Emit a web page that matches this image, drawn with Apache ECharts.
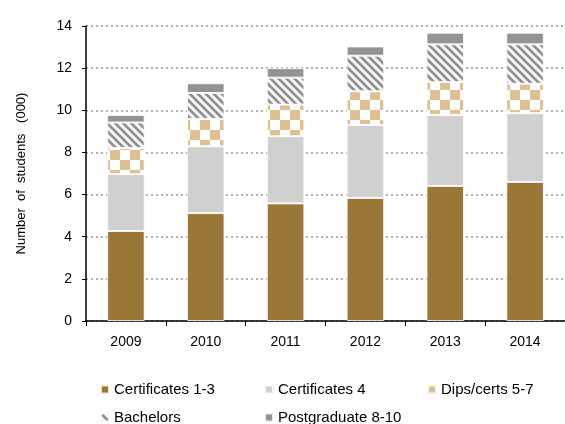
<!DOCTYPE html>
<html>
<head>
<meta charset="utf-8">
<script src="https://cdn.jsdelivr.net/npm/echarts@6/dist/echarts.min.js"></script>
<style>
html, body { margin: 0; padding: 0; background: #fff; }
#student-chart { width: 565px; height: 424px; }
</style>
</head>
<body>
<div id="student-chart"></div>
<script>
// 数据
var years = ['2009', '2010', '2011', '2012', '2013', '2014'];
var certs13 = [4.27, 5.12, 5.58, 5.84, 6.41, 6.60];
var certs4 = [2.70, 3.17, 3.19, 3.46, 3.37, 3.26];
var dips57 = [1.24, 1.30, 1.50, 1.60, 1.56, 1.40];
var bachelors = [1.21, 1.23, 1.28, 1.69, 1.79, 1.87];
var postgrad = [0.36, 0.46, 0.45, 0.44, 0.55, 0.55];
var yTicks = [0, 2, 4, 6, 8, 10, 12, 14];

var myChart = echarts.init(document.getElementById('student-chart'));

/**
 * [棋盘格图案]
 */
function checkerPattern() {
    let c = document.createElement('canvas');
    c.width = 20;
    c.height = 20;
    let ctx = c.getContext('2d');
    ctx.fillStyle = '#ffffff';
    ctx.fillRect(0, 0, 20, 20);
    ctx.fillStyle = '#dec192';
    ctx.fillRect(0, 0, 10, 10);
    ctx.fillRect(10, 10, 10, 10);
    return c;
}

/**
 * [斜线图案]
 */
function stripePattern() {
    let c = document.createElement('canvas');
    c.width = 8;
    c.height = 8;
    let ctx = c.getContext('2d');
    ctx.fillStyle = '#f4f4f4';
    ctx.fillRect(0, 0, 8, 8);
    ctx.strokeStyle = '#8c8c8c';
    ctx.lineWidth = 2.6;
    for (let k = -8; k <= 8; k += 8) {
        ctx.beginPath();
        ctx.moveTo(k - 2, -2);
        ctx.lineTo(k + 10, 10);
        ctx.stroke();
    }
    return c;
}

function barSeries(name, data, color) {
    return {
        name: name,
        type: 'bar',
        stack: 'total',
        barWidth: '47%',
        data: data,
        itemStyle: { color: color, borderColor: 'rgba(255,255,255,0.8)', borderWidth: 1 }
    };
}

var legendText = { fontFamily: 'Liberation Sans, Arial', fontSize: 15, color: '#000' };

/**
 * [单个图例]
 */
function legendItem(name, left, top) {
    return {
        left: left, top: top, itemWidth: 8, itemHeight: 8, itemGap: 4,
        icon: 'rect', textStyle: legendText, data: [name]
    };
}

var option = {
    animation: false,
    backgroundColor: '#fff',
    grid: { left: 86, top: 26, bottom: 103, right: -7 },
    legend: [
        legendItem('Certificates 1-3', 95, 377),
        legendItem('Certificates 4', 259, 377),
        legendItem('Dips/certs 5-7', 422, 377),
        legendItem('Bachelors', 95, 405),
        legendItem('Postgraduate 8-10', 259, 405)
    ],
    xAxis: {
        type: 'category',
        data: years,
        axisLine: { lineStyle: { color: '#000', width: 1.5 } },
        axisTick: { show: true, length: 5, lineStyle: { color: '#000' } },
        axisLabel: { color: '#000', fontSize: 14, fontFamily: 'Liberation Sans, Arial', margin: 14 }
    },
    yAxis: {
        type: 'value',
        min: yTicks[0],
        max: yTicks[yTicks.length - 1],
        interval: 2,
        name: 'Number  of  students   (000)',
        nameLocation: 'middle',
        nameGap: 58,
        nameTextStyle: { color: '#000', fontSize: 13, fontFamily: 'Liberation Sans, Arial' },
        axisLine: { show: true, lineStyle: { color: '#000', width: 1.5 } },
        axisTick: { show: true, length: 4, lineStyle: { color: '#000' } },
        axisLabel: { color: '#000', fontSize: 14, fontFamily: 'Liberation Sans, Arial', margin: 14 },
        splitLine: { show: true, lineStyle: { color: '#999', type: [2, 3], width: 1.5 } }
    },
    series: [
        barSeries('Certificates 1-3', certs13, '#9a7736'),
        barSeries('Certificates 4', certs4, '#d0d0d0'),
        barSeries('Dips/certs 5-7', dips57, { image: checkerPattern(), repeat: 'repeat' }),
        barSeries('Bachelors', bachelors, { image: stripePattern(), repeat: 'repeat' }),
        barSeries('Postgraduate 8-10', postgrad, '#939393')
    ]
};

myChart.setOption(option);
</script>
</body>
</html>
